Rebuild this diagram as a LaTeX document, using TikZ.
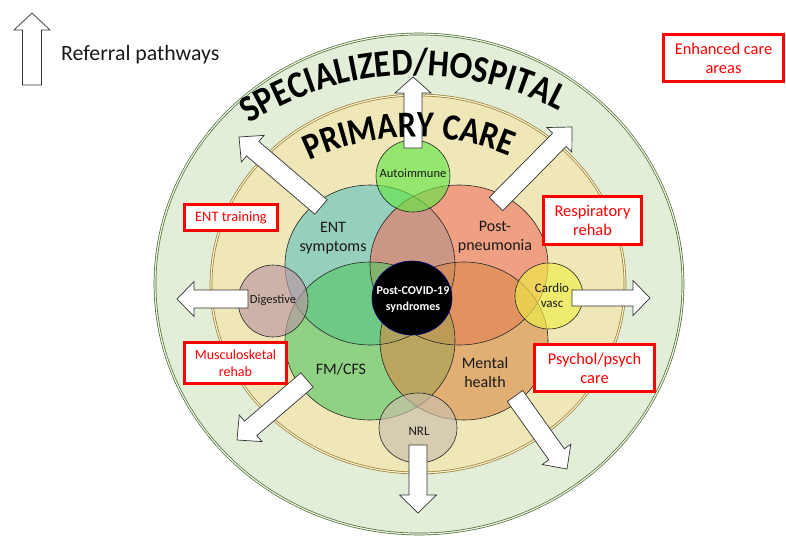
\documentclass[tikz,border=0pt]{standalone}
\usepackage{fontspec}
\setmainfont{Carlito}
\newfontfamily\arcfont[FakeStretch=0.88]{Carlito}
\usetikzlibrary{calc,decorations.text}
\definecolor{outerbg}{HTML}{E2EED8}
\definecolor{outerln}{HTML}{4A6A2E}
\definecolor{innerbg}{HTML}{EFE7B8}
\definecolor{innerln}{HTML}{9A7A2A}
\definecolor{entc}{HTML}{5BC0BE}
\definecolor{ppc}{HTML}{F07160}
\definecolor{fmc}{HTML}{52C560}
\definecolor{mhc}{HTML}{D88A47}
\definecolor{autoc}{HTML}{66E648}
\definecolor{digc}{HTML}{BB96A4}
\definecolor{cardc}{HTML}{F0EE48}
\definecolor{nrlc}{HTML}{CAC0AC}
\definecolor{boxred}{HTML}{FF0000}
\tikzset{
  outerring/.style={fill=outerbg, draw=outerln, double=outerbg!60!white, double distance=1.2pt, line width=0.7pt},
  innerring/.style={fill=innerbg, draw=innerln, double=innerbg!60!white, double distance=1.2pt, line width=0.7pt},
  vfill/.style={fill opacity=0.6},
  sfill/.style={fill opacity=0.65},
  vline/.style={draw=black!85, line width=0.6pt},
  blockarr/.style={fill=white, draw=black!80, line width=0.7pt, line join=miter},
  lbl/.style={font=\fontsize{16}{19}\selectfont, align=center, text=black!90, inner sep=0pt},
  slbl/.style={font=\fontsize{12.5}{15}\selectfont, align=center, text=black!90, inner sep=0pt},
  redbox/.style={draw=boxred, line width=3pt, fill=white, text=boxred, align=center, inner sep=0pt}
}
\newcommand\blockarrow[6]{%
  \coordinate (#1-t) at #2; \coordinate (#1-p) at #3;
  \coordinate (#1-h) at ($(#1-p)!#6!(#1-t)$);
  \draw[blockarr] ($(#1-t)!#4!90:(#1-p)$) -- ($(#1-h)!#4!90:(#1-p)$) -- ($(#1-h)!#5!90:(#1-p)$) -- (#1-p)
    -- ($(#1-h)!#5!-90:(#1-p)$) -- ($(#1-h)!#4!-90:(#1-p)$) -- ($(#1-t)!#4!-90:(#1-p)$) -- cycle;}
\begin{document}
\begin{tikzpicture}[x=1pt,y=-1pt]
\useasboundingbox (0,0) rectangle (786,538);
% rings
\draw[outerring] (419,284) ellipse [x radius=264, y radius=250];
\draw[innerring] (418,284) ellipse [x radius=207, y radius=189];
% Venn fills
\fill[entc, vfill] (370,265) ellipse [x radius=85, y radius=80];
\fill[ppc, vfill] (459,265) ellipse [x radius=89, y radius=80];
\fill[fmc, vfill] (370,341) ellipse [x radius=85, y radius=79];
\fill[mhc, vfill] (464,341) ellipse [x radius=84, y radius=79];
\draw[vline] (370,265) ellipse [x radius=85, y radius=80];
\draw[vline] (459,265) ellipse [x radius=89, y radius=80];
\draw[vline] (370,341) ellipse [x radius=85, y radius=79];
\draw[vline] (464,341) ellipse [x radius=84, y radius=79];
% small circles
\fill[autoc, sfill] (413,176) ellipse [x radius=37, y radius=36];
\fill[digc, sfill] (273,301) ellipse [x radius=35, y radius=36];
\fill[cardc, sfill] (549,296) ellipse [x radius=34, y radius=33];
\fill[nrlc, sfill] (418,428) ellipse [x radius=39, y radius=35];
\draw[vline] (413,176) ellipse [x radius=37, y radius=36];
\draw[vline] (273,301) ellipse [x radius=35, y radius=36];
\draw[vline] (549,296) ellipse [x radius=34, y radius=33];
\draw[vline] (418,428) ellipse [x radius=39, y radius=35];
% centre
\draw[fill=black, draw=blue!50!black, line width=0.6pt] (412,298) ellipse [x radius=40, y radius=37];
% arrows
\blockarrow{aup}{(413,148)}{(413,77)}{9pt}{18pt}{16pt}
\blockarrow{aul}{(321,207)}{(239,137)}{9.5pt}{17.5pt}{18pt}
\blockarrow{aur}{(496,204)}{(572,127)}{9.5pt}{17.5pt}{18pt}
\blockarrow{ar}{(572,298)}{(650,298)}{8pt}{17.5pt}{17pt}
\blockarrow{al}{(248,299)}{(177,299)}{9pt}{17.5pt}{17pt}
\blockarrow{adl}{(307,380)}{(237,440)}{9.5pt}{17.5pt}{18pt}
\blockarrow{adr}{(515,396)}{(567,469)}{9.5pt}{17.5pt}{18pt}
\blockarrow{ad}{(418,445)}{(418,513)}{9pt}{18.5pt}{18pt}
\blockarrow{leg}{(32,85)}{(32,13)}{9.5pt}{18pt}{17pt}
% curved titles
\path[decorate, decoration={text along path, text align=center,
  text={|\arcfont\fontsize{38}{38}\selectfont\bfseries|SPECIALIZED/HOSPITAL}}]
  (415,380) ++(222.6:305) arc[start angle=222.6, end angle=312.6, radius=305];
\path[decorate, decoration={text along path, text align=center,
  text={|\arcfont\fontsize{37}{37}\selectfont\bfseries|PRIMARY CARE}}]
  (415,380) ++(218.6:243) arc[start angle=218.6, end angle=318.6, radius=243];
% labels
\node[lbl] (ent) at (333,238) {ENT\\symptoms};
\node[lbl] (pp) at (495,237) {Post-\\pneumonia};
\node[lbl] (fm) at (341,369) {FM/CFS};
\node[lbl] (mh) at (485,372) {Mental\\health};
\node[slbl] (auto) at (413,173) {Autoimmune};
\node[slbl] (dig) at (273,300) {Digestive};
\node[slbl, font=\fontsize{13}{15}\selectfont] (card) at (552,296) {Cardio\\vasc};
\node[slbl, font=\fontsize{13}{15}\selectfont] (nrl) at (419,431) {NRL};
\node[align=center, text=white, inner sep=0pt, font=\fontsize{12}{16}\selectfont\bfseries] (pc) at (413,300) {Post-COVID-19\\syndromes};
\node[anchor=base west, inner sep=0pt, font=\fontsize{21.8}{24}\selectfont, text=black!90] (legt) at (61,60) {Referral pathways};
% red boxes
\node[redbox, minimum width=120pt, minimum height=47pt, font=\fontsize{16.4}{19}\selectfont] (enh) at (723.5,58) {Enhanced care\\areas};
\node[redbox, minimum width=93pt, minimum height=26pt, font=\fontsize{14.4}{17}\selectfont] (entt) at (231,217.5) {ENT training};
\node[redbox, minimum width=98pt, minimum height=48pt, font=\fontsize{16.4}{18.5}\selectfont] (resp) at (592.5,220.5) {Respiratory\\rehab};
\node[redbox, minimum width=102pt, minimum height=41pt, font=\fontsize{14}{16.5}\selectfont] (musc) at (235.5,363) {Musculosketal\\rehab};
\node[redbox, minimum width=120pt, minimum height=47pt, font=\fontsize{16.4}{19}\selectfont] (psy) at (594.5,368) {Psychol/psych\\care};
\end{tikzpicture}
\end{document}
